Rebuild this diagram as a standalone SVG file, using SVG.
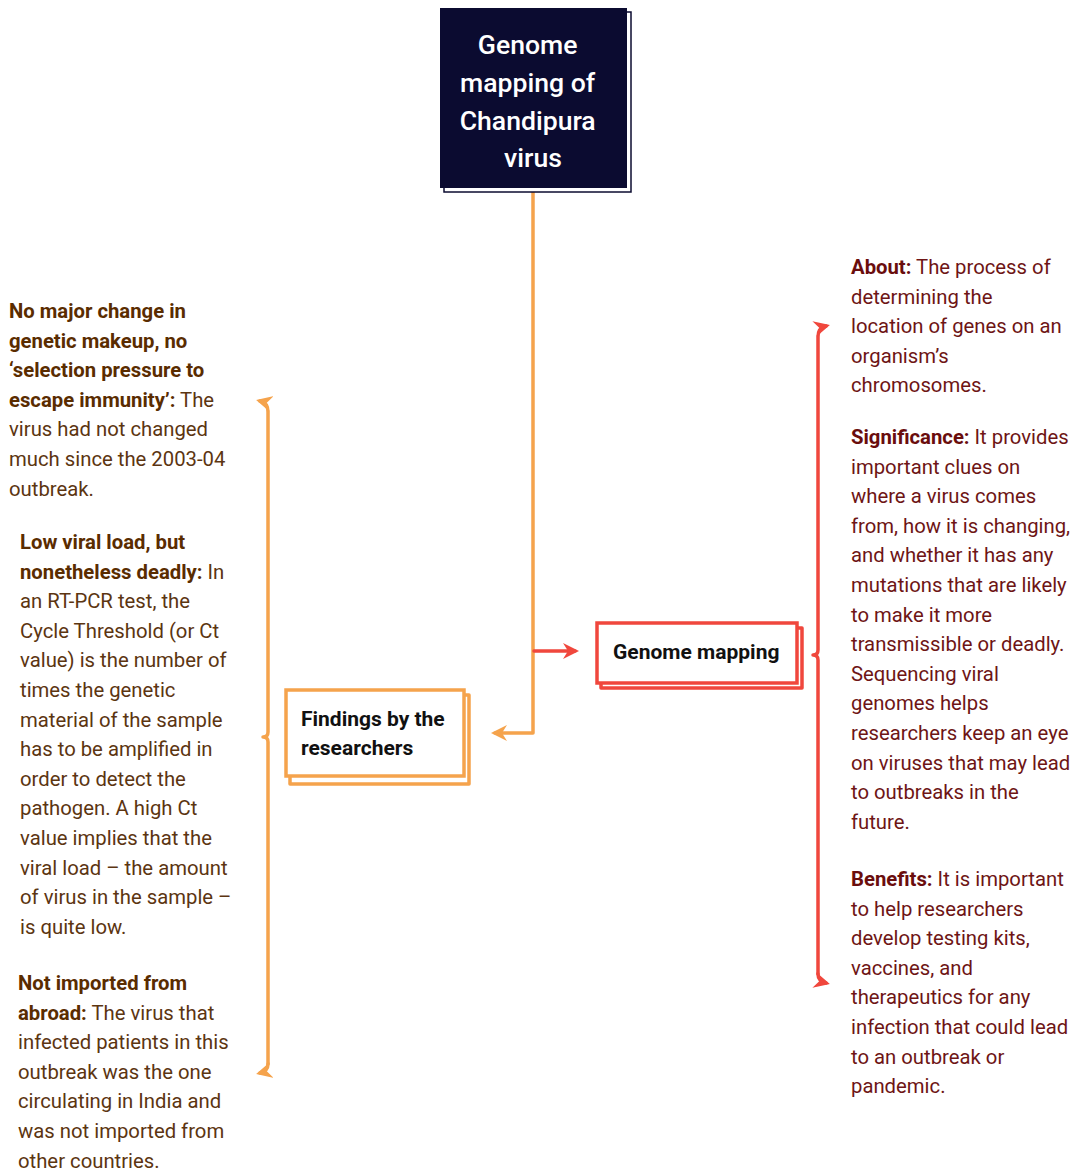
<svg xmlns="http://www.w3.org/2000/svg" width="1075" height="1171" viewBox="0 0 1075 1171">
<style>
.t{font-family:Roboto,"Liberation Sans",sans-serif;font-size:20.3px;}
.l{fill:#5c3511;}
.r{fill:#6e1515;}
.lb{fill:#5a2c00;font-weight:700;}
.rb{fill:#6a0d0d;font-weight:700;}
.box{font-family:Roboto,"Liberation Sans",sans-serif;font-size:21px;font-weight:700;fill:#111;}
.org{stroke:#f5a34c;fill:none;stroke-width:3.5;stroke-linecap:round;stroke-linejoin:round;}
.red{stroke:#f0473d;fill:none;stroke-width:3.5;stroke-linecap:round;stroke-linejoin:round;}
</style>
<defs>
<marker id="ao" markerWidth="16" markerHeight="16" refX="12" refY="8" orient="auto" markerUnits="userSpaceOnUse"><path d="M0,0 L16,8 L0,16 L5,8 z" fill="#f5a34c"/></marker>
<marker id="ar" markerWidth="16" markerHeight="16" refX="12" refY="8" orient="auto" markerUnits="userSpaceOnUse"><path d="M0,0 L16,8 L0,16 L5,8 z" fill="#f0473d"/></marker>
</defs>
<rect width="1075" height="1171" fill="#fff"/>

<g id="connectors">
<path class="org" d="M533,190 L533,733 L495,733" marker-end="url(#ao)"/>
<path class="red" d="M534,651 L575,651" marker-end="url(#ar)"/>
<path class="org" d="M268,1064 L268,742 Q268,737 263,737 Q268,737 268,732 L268,412 Q268,403 260,401" marker-end="url(#ao)"/>
<path class="org" d="M268,1064 Q268,1071 260,1073" marker-end="url(#ao)"/>
<path class="red" d="M818,974 L818,660 Q818,655 813,655 Q818,655 818,650 L818,337 Q818,328 826,326" marker-end="url(#ar)"/>
<path class="red" d="M818,974 Q818,981 826,983" marker-end="url(#ar)"/>
</g>

<g id="title">
<rect x="444" y="12" width="187" height="180" fill="#fff" stroke="#0b0b30" stroke-width="1.5"/>
<rect x="440" y="8" width="187" height="180" fill="#0b0b30"/>
<text font-family="Roboto,'Liberation Sans',sans-serif" font-size="26.6" font-weight="500" fill="#fff" text-anchor="middle">
<tspan x="531" y="54">Genome</tspan>
<tspan x="531" y="92">mapping of</tspan>
<tspan x="531" y="130">Chandipura</tspan>
<tspan x="533" y="167">virus</tspan>
</text>
</g>

<g id="genome-mapping">
<rect x="601" y="628" width="201" height="60" fill="#fff" class="red"/>
<rect x="597" y="623" width="200" height="60" fill="#fff" stroke="#f0473d" stroke-width="3.5"/>
<text class="box" x="613" y="659">Genome mapping</text>
</g>

<g id="findings">
<rect x="290" y="695" width="179" height="89" fill="#fff" class="org"/>
<rect x="286" y="690" width="178" height="86" fill="#fff" stroke="#f5a34c" stroke-width="3.5"/>
<text class="box"><tspan x="301" y="726">Findings by the</tspan><tspan x="301" y="755">researchers</tspan></text>
</g>

<g id="finding1">
<text class="t l">
<tspan x="9" y="318" class="lb">No major change in</tspan>
<tspan x="9" y="347.6" class="lb">genetic makeup, no</tspan>
<tspan x="9" y="377.2" class="lb">‘selection pressure to</tspan>
<tspan x="9" y="406.8"><tspan class="lb">escape immunity’:</tspan> The</tspan>
<tspan x="9" y="436.4">virus had not changed</tspan>
<tspan x="9" y="466">much since the 2003-04</tspan>
<tspan x="9" y="495.6">outbreak.</tspan>
</text>
</g>

<g id="finding2">
<text class="t l">
<tspan x="20" y="549" class="lb">Low viral load, but</tspan>
<tspan x="20" y="578.6"><tspan class="lb">nonetheless deadly:</tspan> In</tspan>
<tspan x="20" y="608.2">an RT-PCR test, the</tspan>
<tspan x="20" y="637.8">Cycle Threshold (or Ct</tspan>
<tspan x="20" y="667.4">value) is the number of</tspan>
<tspan x="20" y="697">times the genetic</tspan>
<tspan x="20" y="726.6">material of the sample</tspan>
<tspan x="20" y="756.2">has to be amplified in</tspan>
<tspan x="20" y="785.8">order to detect the</tspan>
<tspan x="20" y="815.4">pathogen. A high Ct</tspan>
<tspan x="20" y="845">value implies that the</tspan>
<tspan x="20" y="874.6">viral load – the amount</tspan>
<tspan x="20" y="904.2">of virus in the sample –</tspan>
<tspan x="20" y="933.8">is quite low.</tspan>
</text>
</g>

<g id="finding3">
<text class="t l">
<tspan x="18" y="990" class="lb">Not imported from</tspan>
<tspan x="18" y="1019.6"><tspan class="lb">abroad:</tspan> The virus that</tspan>
<tspan x="18" y="1049.2">infected patients in this</tspan>
<tspan x="18" y="1078.8">outbreak was the one</tspan>
<tspan x="18" y="1108.4">circulating in India and</tspan>
<tspan x="18" y="1138">was not imported from</tspan>
<tspan x="18" y="1167.6">other countries.</tspan>
</text>
</g>

<g id="about">
<text class="t r">
<tspan x="851" y="274"><tspan class="rb">About:</tspan> The process of</tspan>
<tspan x="851" y="303.6">determining the</tspan>
<tspan x="851" y="333.2">location of genes on an</tspan>
<tspan x="851" y="362.8">organism’s</tspan>
<tspan x="851" y="392.4">chromosomes.</tspan>
</text>
</g>

<g id="significance">
<text class="t r">
<tspan x="851" y="444"><tspan class="rb">Significance:</tspan> It provides</tspan>
<tspan x="851" y="473.6">important clues on</tspan>
<tspan x="851" y="503.2">where a virus comes</tspan>
<tspan x="851" y="532.8">from, how it is changing,</tspan>
<tspan x="851" y="562.4">and whether it has any</tspan>
<tspan x="851" y="592">mutations that are likely</tspan>
<tspan x="851" y="621.6">to make it more</tspan>
<tspan x="851" y="651.2">transmissible or deadly.</tspan>
<tspan x="851" y="680.8">Sequencing viral</tspan>
<tspan x="851" y="710.4">genomes helps</tspan>
<tspan x="851" y="740">researchers keep an eye</tspan>
<tspan x="851" y="769.6">on viruses that may lead</tspan>
<tspan x="851" y="799.2">to outbreaks in the</tspan>
<tspan x="851" y="828.8">future.</tspan>
</text>
</g>

<g id="benefits">
<text class="t r">
<tspan x="851" y="886"><tspan class="rb">Benefits:</tspan> It is important</tspan>
<tspan x="851" y="915.6">to help researchers</tspan>
<tspan x="851" y="945.2">develop testing kits,</tspan>
<tspan x="851" y="974.8">vaccines, and</tspan>
<tspan x="851" y="1004.4">therapeutics for any</tspan>
<tspan x="851" y="1034">infection that could lead</tspan>
<tspan x="851" y="1063.6">to an outbreak or</tspan>
<tspan x="851" y="1093.2">pandemic.</tspan>
</text>
</g>
</svg>
